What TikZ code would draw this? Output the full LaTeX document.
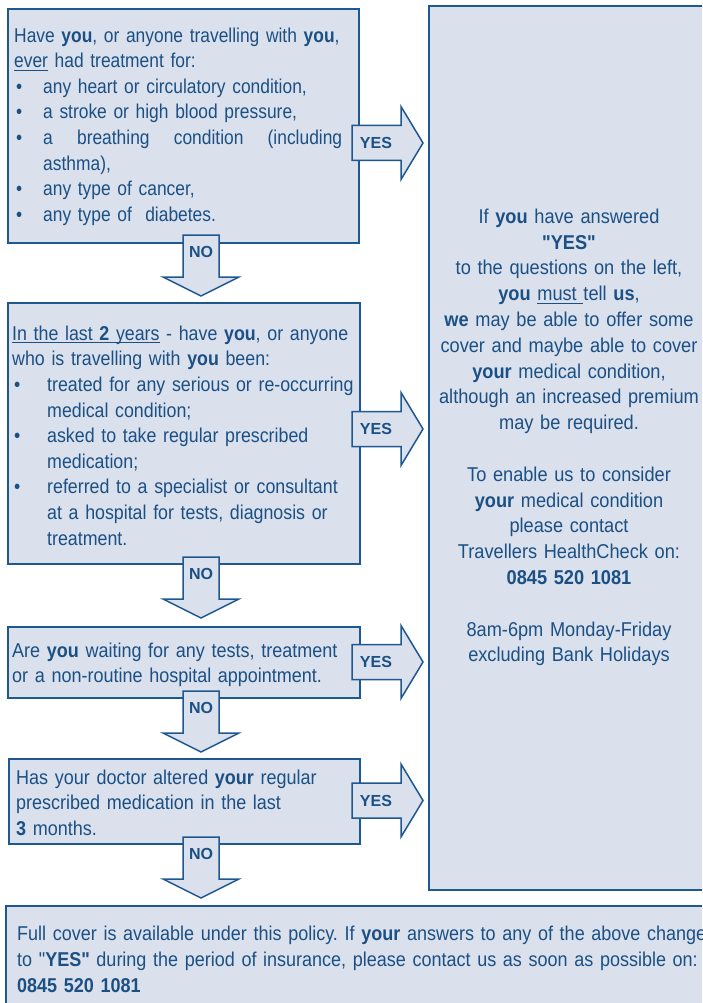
\documentclass[tikz,border=0pt]{standalone}
\usepackage{fontspec}
\setmainfont{Liberation Sans}
\newfontfamily\bodyfont{Liberation Sans}[FakeStretch=0.90]
\newfontfamily\rightfont{Liberation Sans}[FakeStretch=0.91]
\newfontfamily\twofont{Liberation Sans}[FakeStretch=0.89]
\newfontfamily\narrowfont{Liberation Sans}[FakeStretch=0.87]
\definecolor{fillcol}{RGB}{218,224,236}
\definecolor{bordercol}{RGB}{30,88,145}
\definecolor{textcol}{RGB}{27,80,133}
\newsavebox\ulbox
\newcommand\uln[1]{\leavevmode\sbox\ulbox{#1}\rlap{\rule[-3pt]{\wd\ulbox}{1.1pt}}\usebox\ulbox}
\newcommand\firststrut{\leavevmode\rule{0pt}{18pt}}
\newcommand\bulA{\makebox[29pt][l]{\hspace{2pt}\textbullet}}
\newcommand\bulAs{\hspace*{29pt}}
\newcommand\bulB{\makebox[35pt][l]{\hspace{2pt}\textbullet}}
\newcommand\bulBs{\hspace*{35pt}}
\tikzset{
  boxst/.style={draw=bordercol, fill=fillcol, line width=2pt, anchor=north west, inner sep=0pt},
  txt/.style={inner sep=0pt, text=textcol, font=\frenchspacing\bodyfont\fontsize{20}{25.6}\selectfont, align=left, anchor=north west, text width=#1},
  txt/.default=360pt,
  ctxt/.style={inner sep=0pt, text=textcol, font=\frenchspacing\rightfont\fontsize{20}{25.8}\selectfont, align=center, anchor=north, text width=300pt},
  lbl/.style={inner sep=0pt, text=textcol, font=\bfseries\fontsize{16}{16}\selectfont},
  arrowst/.style={draw=bordercol, fill=fillcol, line width=1.5pt, line join=miter},
  pics/noarrow/.style={code={
    \draw[arrowst] (-18,0) -- (-18,42) -- (-38,42) -- (0,61) -- (38,42) -- (18,42) -- (18,0) -- cycle;
    \node[lbl] (-t) at (0,17) {NO};
  }},
  pics/yesarrow/.style={code={
    \draw[arrowst] (0,-17.5) -- (49,-17.5) -- (49,-36.5) -- (71,0) -- (49,36.5) -- (49,17.5) -- (0,17.5) -- cycle;
    \node[lbl] (-t) at (24,0) {YES};
  }}
}
\begin{document}
\begin{tikzpicture}[x=1pt,y=-1pt]
\useasboundingbox (0,0) rectangle (702,1003);
\clip (0,0) rectangle (702,1003);
\fill[white] (0,0) rectangle (702,1003);
% boxes
\node[boxst, minimum width=351pt, minimum height=234pt] (q1) at (7,8) {};
\node[boxst, minimum width=352pt, minimum height=261pt] (q2) at (7,302) {};
\node[boxst, minimum width=352pt, minimum height=71pt] (q3) at (7,626) {};
\node[boxst, minimum width=351pt, minimum height=85pt] (q4) at (8,758) {};
\node[boxst, minimum width=290pt, minimum height=884pt] (ans) at (428,5) {};
\node[boxst, minimum width=715pt, minimum height=120pt] (full) at (5,905) {};
% texts
\node[txt, font=\frenchspacing\narrowfont\fontsize{20}{25.6}\selectfont] (t1) at (14,24) {\firststrut Have \textbf{you}, or anyone travelling with \textbf{you},\\
\uln{ever} had treatment for:\\
\bulA any heart or circulatory condition,\\
\bulA a stroke or high blood pressure,\\
\bulA \hbox to 299pt{a\hfill breathing\hfill condition\hfill (including}\\
\bulAs asthma),\\
\bulA any type of cancer,\\
\bulA any type of\ \ diabetes.};
\node[txt, font=\frenchspacing\twofont\fontsize{20}{25.6}\selectfont] (t2) at (12,322) {\firststrut\uln{In the last \textbf{2} years} - have \textbf{you}, or anyone\\
who is travelling with \textbf{you} been:\\
\bulB treated for any serious or re-occurring\\
\bulBs medical condition;\\
\bulB asked to take regular prescribed\\
\bulBs medication;\\
\bulB referred to a specialist or consultant\\
\bulBs at a hospital for tests, diagnosis or\\
\bulBs treatment.};
\node[txt] (t3) at (12,639) {\firststrut Are \textbf{you} waiting for any tests, treatment\\
or a non-routine hospital appointment.};
\node[txt] (t4) at (16,766) {\firststrut Has your doctor altered \textbf{your} regular\\
prescribed medication in the last\\
\textbf{3} months.};
\node[ctxt] (ta) at (569,205) {\firststrut If \textbf{you} have answered\\
\textbf{"YES"}\\
to the questions on the left,\\
\textbf{you} \uln{must }tell \textbf{us},\\
\textbf{we} may be able to offer some\\
cover and maybe able to cover\\
\textbf{your} medical condition,\\
although an increased premium\\
may be required.\\
\mbox{}\\
To enable us to consider\\
\textbf{your} medical condition\\
please contact\\
Travellers HealthCheck on:\\
\textbf{0845 520 1081}\\
\mbox{}\\
8am-6pm Monday-Friday\\
excluding Bank Holidays};
\node[txt=800pt, font=\frenchspacing\bodyfont\fontsize{20}{26}\selectfont] (tf) at (17,922) {\firststrut Full cover is available under this policy. If \textbf{your} answers to any of the above change\\
to "\textbf{YES"} during the period of insurance, please contact us as soon as possible on:\\
\textbf{0845 520 1081}};
% arrows
\pic (no1) at (201,235) {noarrow};
\pic (no2) at (201,557) {noarrow};
\pic (no3) at (201,691) {noarrow};
\pic (no4) at (201,837) {noarrow};
\pic (yes1) at (352,143) {yesarrow};
\pic (yes2) at (352,429) {yesarrow};
\pic (yes3) at (352,662) {yesarrow};
\pic (yes4) at (352,800.5) {yesarrow};
\end{tikzpicture}
\end{document}
